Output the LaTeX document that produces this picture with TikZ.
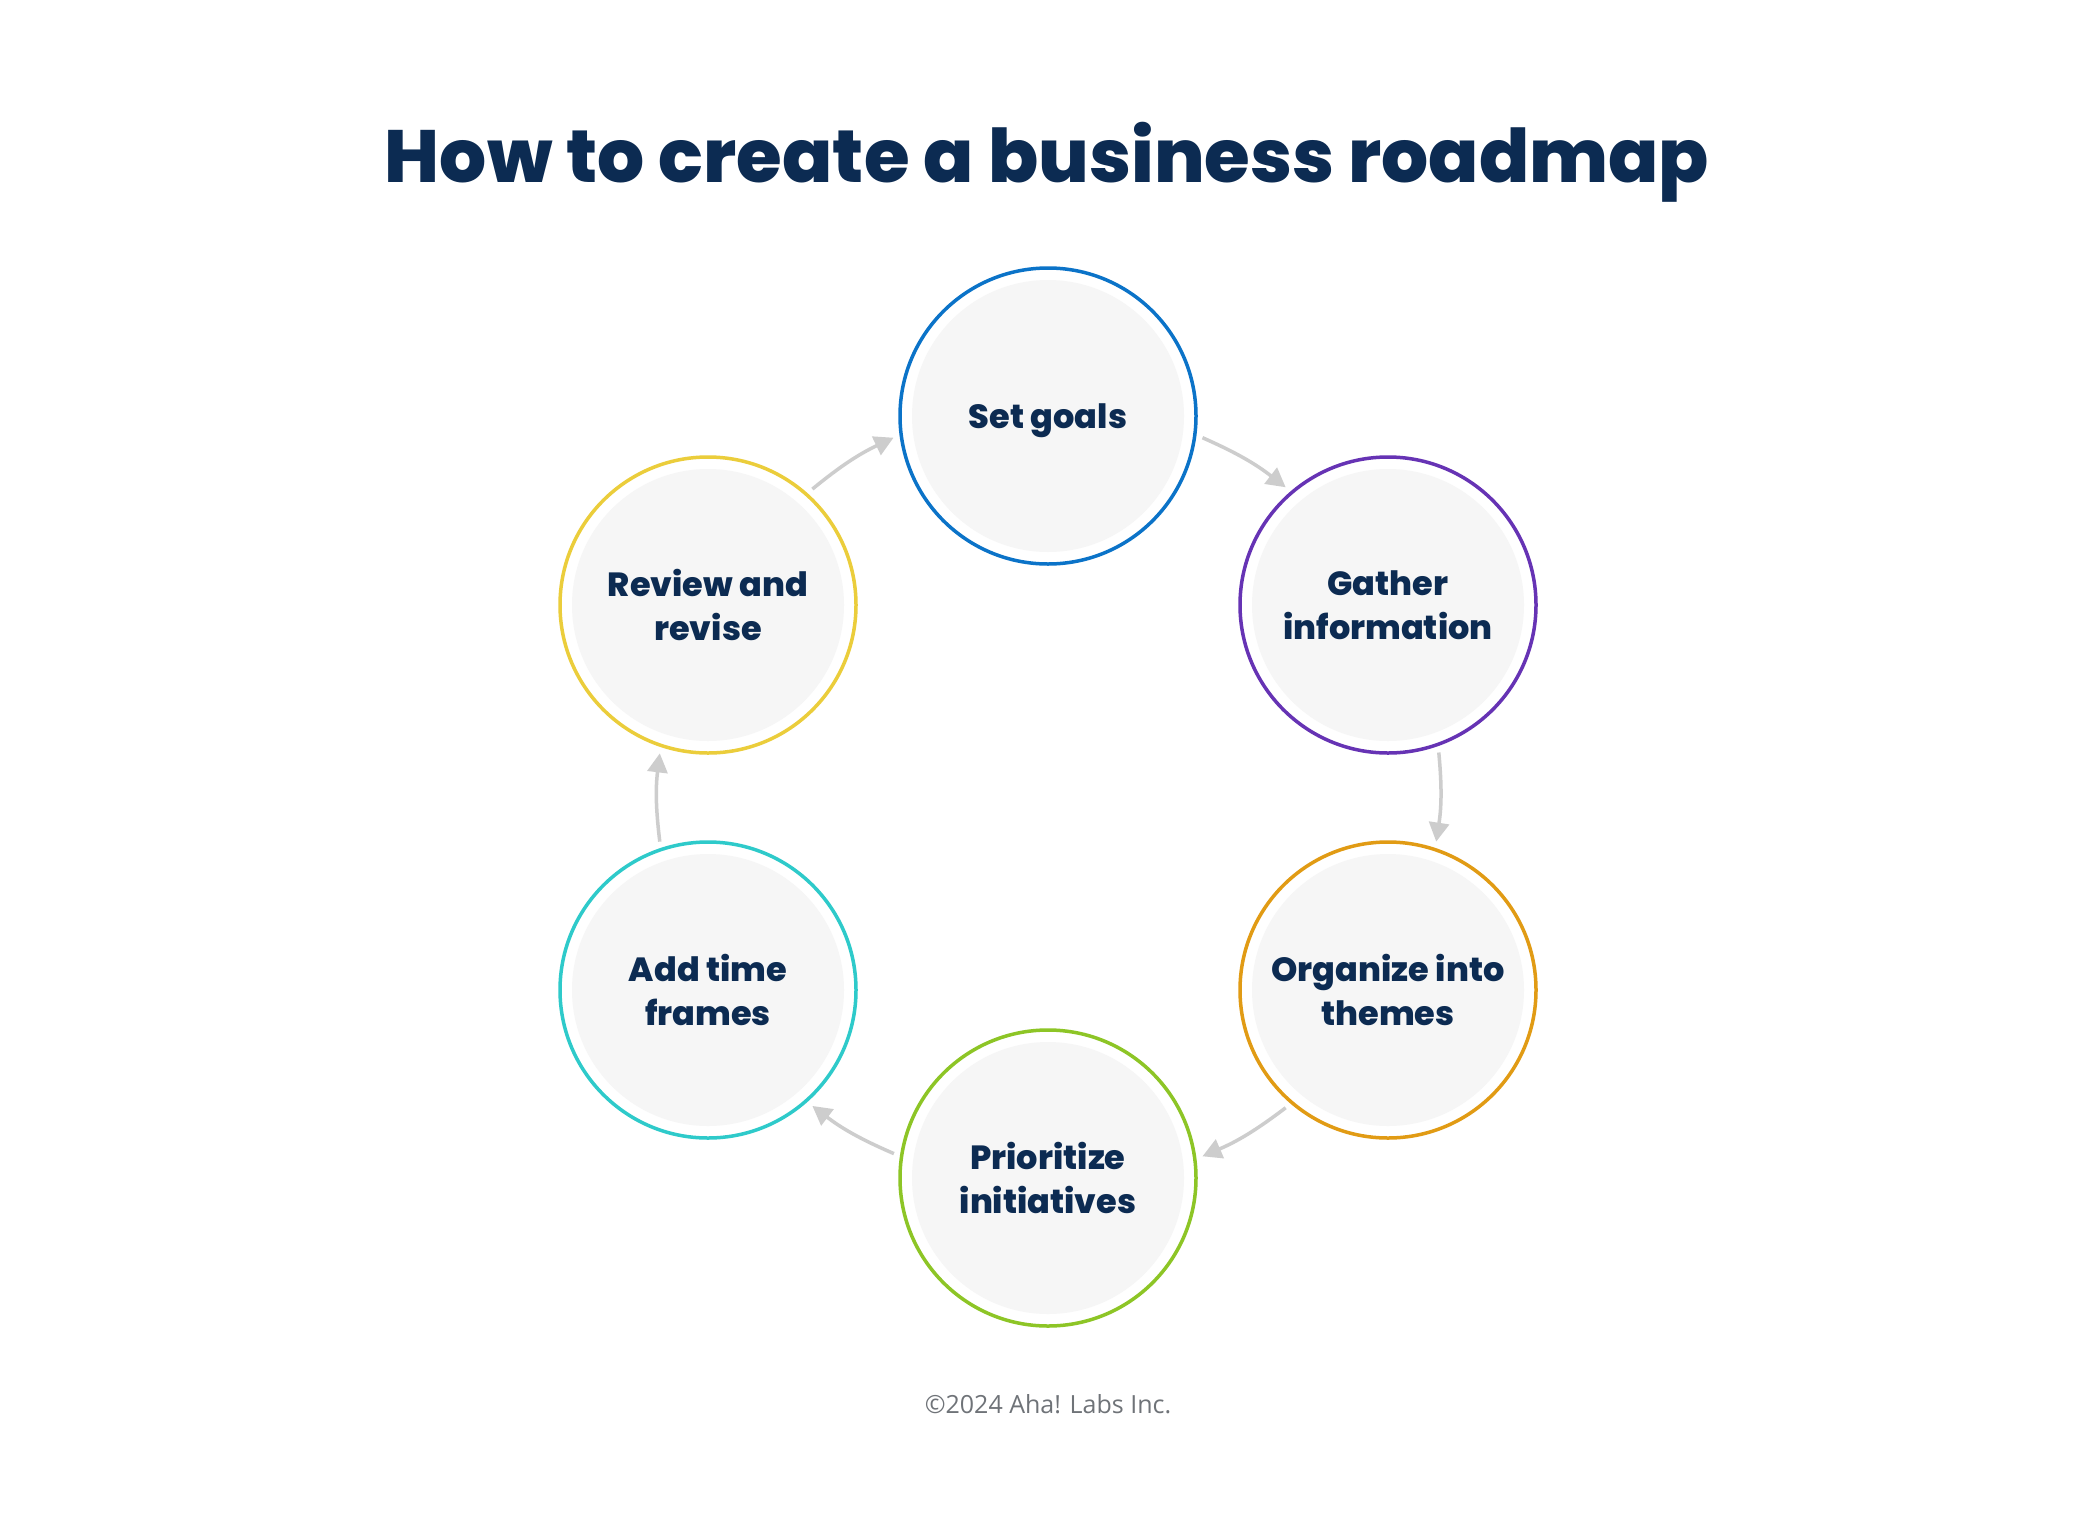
\documentclass[tikz,border=0pt]{standalone}
\usepackage{fontspec}
\usetikzlibrary{arrows.meta}
\newfontfamily\heavyfont{Poppins ExtraBold}
\newfontfamily\copyfont{Open Sans}
\definecolor{navy}{HTML}{0C2B52}
\definecolor{innerfill}{HTML}{F6F6F6}
\definecolor{arrowgray}{HTML}{CDCDCD}
\definecolor{copygray}{HTML}{6F7378}
\definecolor{cblue}{HTML}{0B73C8}
\definecolor{cpurple}{HTML}{6633B4}
\definecolor{corange}{HTML}{E19B14}
\definecolor{cgreen}{HTML}{8DC526}
\definecolor{ccyan}{HTML}{2ECACA}
\definecolor{cyellow}{HTML}{EBCD3B}
\begin{document}
\begin{tikzpicture}[x=1pt,y=-1pt,
  stepcircle/.style={circle, draw=#1, line width=3.5pt, minimum size=296pt,
    inner sep=0pt, outer sep=8pt, fill=white,
    path picture={\fill[innerfill] (path picture bounding box.center) circle[radius=136pt];},
    text=navy, font=\heavyfont\fontsize{33.5}{44}\selectfont, align=center},
  flow/.style={draw=arrowgray, line width=3.5pt, -{Triangle[length=19pt,width=20pt]}, bend left=7}
]
\useasboundingbox (0,0) rectangle (2096,1518);
\fill[white] (0,0) rectangle (2096,1518);

\node[font=\heavyfont\fontsize{74}{80}\selectfont, text=navy, anchor=base] (title) at (1047,182) {How to create a business roadmap};

\node[stepcircle=cblue, text depth=0pt] (A) at (1048,416)  {Set goals};
\node[stepcircle=cpurple] (B) at (1388,605)  {Gather\\information};
\node[stepcircle=corange] (C) at (1388,990)  {Organize into\\themes};
\node[stepcircle=cgreen]  (D) at (1048,1178) {Prioritize\\initiatives};
\node[stepcircle=ccyan]   (E) at (708,990)   {Add time\\frames};
\node[stepcircle=cyellow] (F) at (708,605)   {Review and\\revise};

\draw[flow] (A.-8.1) to (B.131.3);
\draw[flow] (B.-71.9) to (C.72);
\draw[flow] (C.-131.6) to (D.8.1);
\draw[flow] (D.171.9) to (E.-48.4);
\draw[flow] (E.108) to (F.-108);
\draw[flow] (F.48.7) to (A.188.1);

\node[font=\copyfont\fontsize{25}{30}\selectfont, text=copygray, anchor=base] (copy) at (1048,1413) {©2024 Aha! Labs Inc.};
\end{tikzpicture}
\end{document}
